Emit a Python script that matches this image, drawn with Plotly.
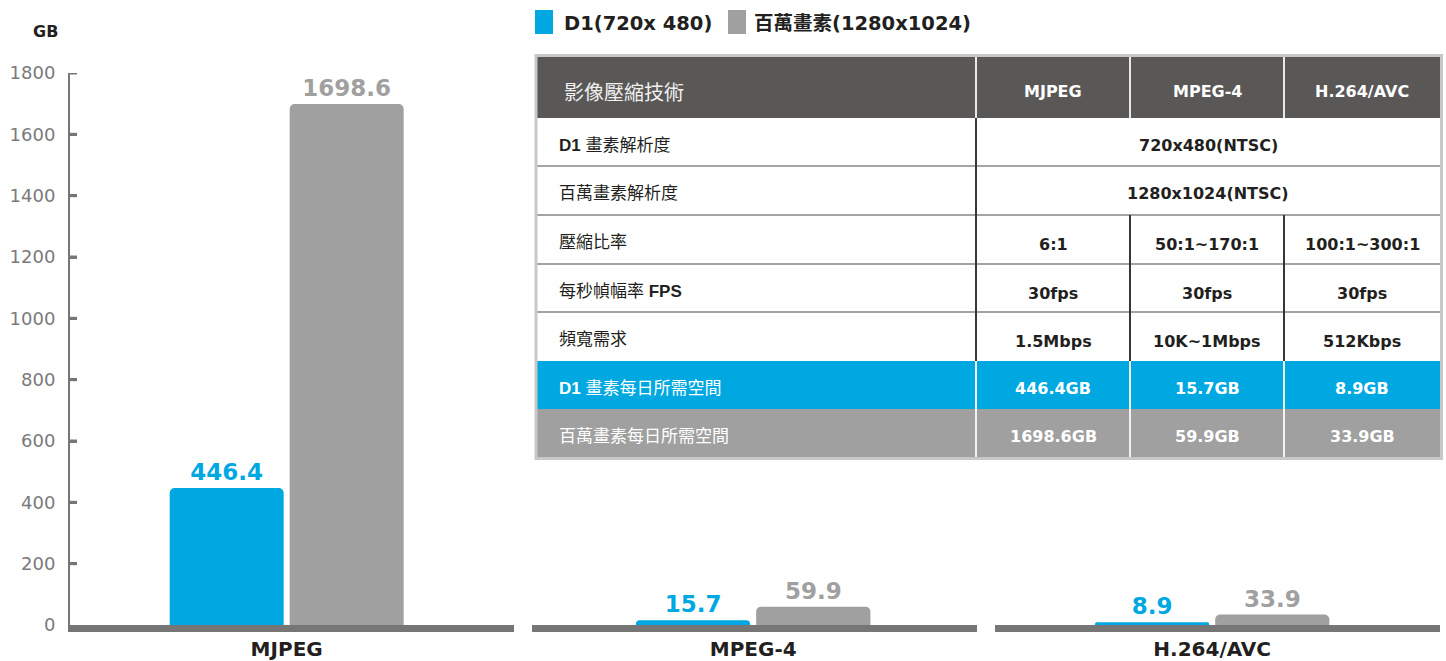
import plotly.graph_objects as go

W, H = 1446, 661

# ---------------- data ----------------
codecs = ["MJPEG", "MPEG-4", "H.264/AVC"]
series_names = ["D1(720x 480)", "百萬畫素(1280x1024)"]
d1_gb = [446.4, 15.7, 8.9]
mp_gb = [1698.6, 59.9, 33.9]
y_tick_vals = [0, 200, 400, 600, 800, 1000, 1200, 1400, 1600, 1800]
y_unit = "GB"

table_title = "影像壓縮技術"
row_labels = [
    "<b>D1</b> 畫素解析度",
    "百萬畫素解析度",
    "壓縮比率",
    "每秒幀幅率 <b>FPS</b>",
    "頻寬需求",
    "<b>D1</b> 畫素每日所需空間",
    "百萬畫素每日所需空間",
]
d1_resolution = "720x480(NTSC)"
mp_resolution = "1280x1024(NTSC)"
compression_ratio = ["6:1", "50:1~170:1", "100:1~300:1"]
frame_rate = ["30fps", "30fps", "30fps"]
bandwidth = ["1.5Mbps", "10K~1Mbps", "512Kbps"]

# ---------------- styles ----------------
BLUE = "#00a8e2"
GRAY = "#a0a0a0"
AXIS = "#767676"
DARK = "#231f20"
HEAD = "#5a5857"
series_colors = [BLUE, GRAY]
LATIN = "DejaVu Sans"
CJK = "Liberation Sans, Noto Sans CJK TC"

def px(x):
    return x / W

def py(y):
    return 1 - y / H

panels = [(70, 514), (532, 977), (995, 1440)]
panel_shift = [0.012, 0.003, 0.012]
axis_ids = ["x", "x2", "x3"]

fig = go.Figure()

for i, codec in enumerate(codecs):
    for s, vals in enumerate([d1_gb, mp_gb]):
        fig.add_trace(go.Bar(
            x=[codec], y=[vals[i]], xaxis=axis_ids[i], yaxis="y",
            name=series_names[s], showlegend=False,
            marker=dict(color=series_colors[s], cornerradius=5, line=dict(width=0)),
            text=[f"{vals[i]:.1f}"], texttemplate="%{text}",
            textposition="outside", constraintext="none", cliponaxis=False,
            textfont=dict(family=LATIN, size=23, color=series_colors[s], weight="bold"),
            hoverinfo="skip",
        ))

layout_axes = {}
for i, (a, b) in enumerate(panels):
    key = "xaxis" if i == 0 else f"xaxis{i+1}"
    layout_axes[key] = dict(
        domain=[px(a), px(b)], anchor="y", type="category",
        range=[-0.5 + panel_shift[i], 0.5 + panel_shift[i]],
        showline=True, linecolor=AXIS, linewidth=7,
        ticks="", showgrid=False, zeroline=False, fixedrange=True,
        tickfont=dict(family=LATIN, size=20, color=DARK, weight="bold"),
        ticklabelstandoff=0,
    )

fig.update_layout(
    width=W, height=H, autosize=False,
    margin=dict(l=0, r=0, t=0, b=0, pad=0),
    template="none",
    paper_bgcolor="white", plot_bgcolor="rgba(0,0,0,0)",
    barmode="group", bargap=0.4595, bargroupgap=0.05,
    showlegend=False,
    yaxis=dict(
        domain=[py(625), py(73)], range=[0, 1800], anchor="x",
        tickvals=y_tick_vals, showline=True, linecolor=AXIS, linewidth=2,
        ticks="inside", ticklen=7, tickwidth=3, tickcolor=AXIS,
        tickfont=dict(family=LATIN, size=18, color="#7a7a7a"),
        showgrid=False, zeroline=False, fixedrange=True,
        ticklabelstandoff=9, layer="above traces",
    ),
    **layout_axes,
)

shapes = []
annotations = []

# y-axis tick marks pointing into the plot (drawn at the axis tick values)
for v in y_tick_vals[1:]:
    shapes.append(dict(type="line", xref="paper", yref="y",
                       x0=px(69), x1=px(77), y0=v, y1=v,
                       line=dict(color=AXIS, width=3), layer="above"))

def rect(x0, y0, x1, y1, fill, line_color=None, line_width=0):
    shapes.append(dict(type="rect", xref="paper", yref="paper",
                       x0=px(x0), x1=px(x1), y0=py(y1), y1=py(y0),
                       fillcolor=fill, line=dict(color=line_color or fill, width=line_width),
                       layer="above"))

def line(x0, y0, x1, y1, color, width):
    shapes.append(dict(type="line", xref="paper", yref="paper",
                       x0=px(x0), x1=px(x1), y0=py(y0), y1=py(y1),
                       line=dict(color=color, width=width), layer="above"))

def text(x, y, s, size, color, family, xanchor="center", bold=False):
    annotations.append(dict(xref="paper", yref="paper", x=px(x), y=py(y),
                            text=s, showarrow=False, xanchor=xanchor, yanchor="middle",
                            font=dict(size=size, color=color, family=family,
                                      weight="bold" if bold else "normal")))

# ---- unit label ----
text(45, 31, y_unit, 16, DARK, LATIN, bold=True)

# ---- legend ----
legend_pos = [(535, 553, 562), (728, 746, 752)]
for s, (a, b, t) in enumerate(legend_pos):
    rect(a, 10, b, 34, series_colors[s])
    text(t, 23, series_names[s], 19.5, DARK, LATIN + ", Noto Sans CJK TC", xanchor="left", bold=True)

# ---- table ----
col_edges = [537, 976, 1130, 1284, 1440]
row_edges = [57, 118, 166, 215, 264, 312, 361, 409, 457]
col_centers = [(col_edges[k] + col_edges[k + 1]) / 2 for k in range(1, 4)]

rect(col_edges[0], row_edges[0], col_edges[-1], row_edges[1], HEAD)
rect(col_edges[0], row_edges[6], col_edges[-1], row_edges[7], BLUE)
rect(col_edges[0], row_edges[7], col_edges[-1], row_edges[8], GRAY)

for r in range(2, 6):
    line(col_edges[0], row_edges[r], col_edges[-1], row_edges[r], "#4a4a4a", 1.2)
# vertical separators
for k in range(1, 4):
    line(col_edges[k], row_edges[0], col_edges[k], row_edges[1], "#e8e8e8", 2)
    line(col_edges[k], row_edges[6], col_edges[k], row_edges[8], "#f2f2f2", 2)
line(col_edges[1], row_edges[1], col_edges[1], row_edges[6], "#3a3536", 2)
for k in (2, 3):
    line(col_edges[k], row_edges[3], col_edges[k], row_edges[6], "#3a3536", 2)
# outer border
shapes.append(dict(type="rect", xref="paper", yref="paper",
                   x0=px(536), x1=px(1441.5), y0=py(458.5), y1=py(55.5),
                   line=dict(color="#c8c8c8", width=3), fillcolor="rgba(0,0,0,0)", layer="above"))

# header texts
text(562, 91, table_title, 20, "#f0f0f0", "Noto Sans CJK TC", xanchor="left")
for k, c in enumerate(codecs):
    text(col_centers[k], 91, c, 16, "white", LATIN, bold=True)

# row labels
for r, lab in enumerate(row_labels):
    yc = (row_edges[r + 1] + row_edges[r + 2]) / 2 + 3
    color = "white" if r >= 5 else DARK
    text(557, yc, lab, 17, color, CJK, xanchor="left")

# row values
merged_center = (col_edges[1] + col_edges[-1]) / 2
for r, val in [(0, d1_resolution), (1, mp_resolution)]:
    yc = (row_edges[r + 1] + row_edges[r + 2]) / 2 + 3
    text(merged_center, yc, val, 16, DARK, LATIN, bold=True)

value_rows = [
    (2, compression_ratio, DARK),
    (3, frame_rate, DARK),
    (4, bandwidth, DARK),
    (5, [f"{v:.1f}GB" for v in d1_gb], "white"),
    (6, [f"{v:.1f}GB" for v in mp_gb], "white"),
]
for r, vals, color in value_rows:
    off = 5 if r < 5 else 3.5
    yc = (row_edges[r + 1] + row_edges[r + 2]) / 2 + off
    for k, v in enumerate(vals):
        text(col_centers[k], yc, v, 16, color, LATIN, bold=True)

fig.update_layout(shapes=shapes, annotations=annotations)

fig.write_html(
    "out.html",
    config={"displayModeBar": False},
    post_script="document.body.style.margin='0';document.body.style.overflow='hidden';",
)
